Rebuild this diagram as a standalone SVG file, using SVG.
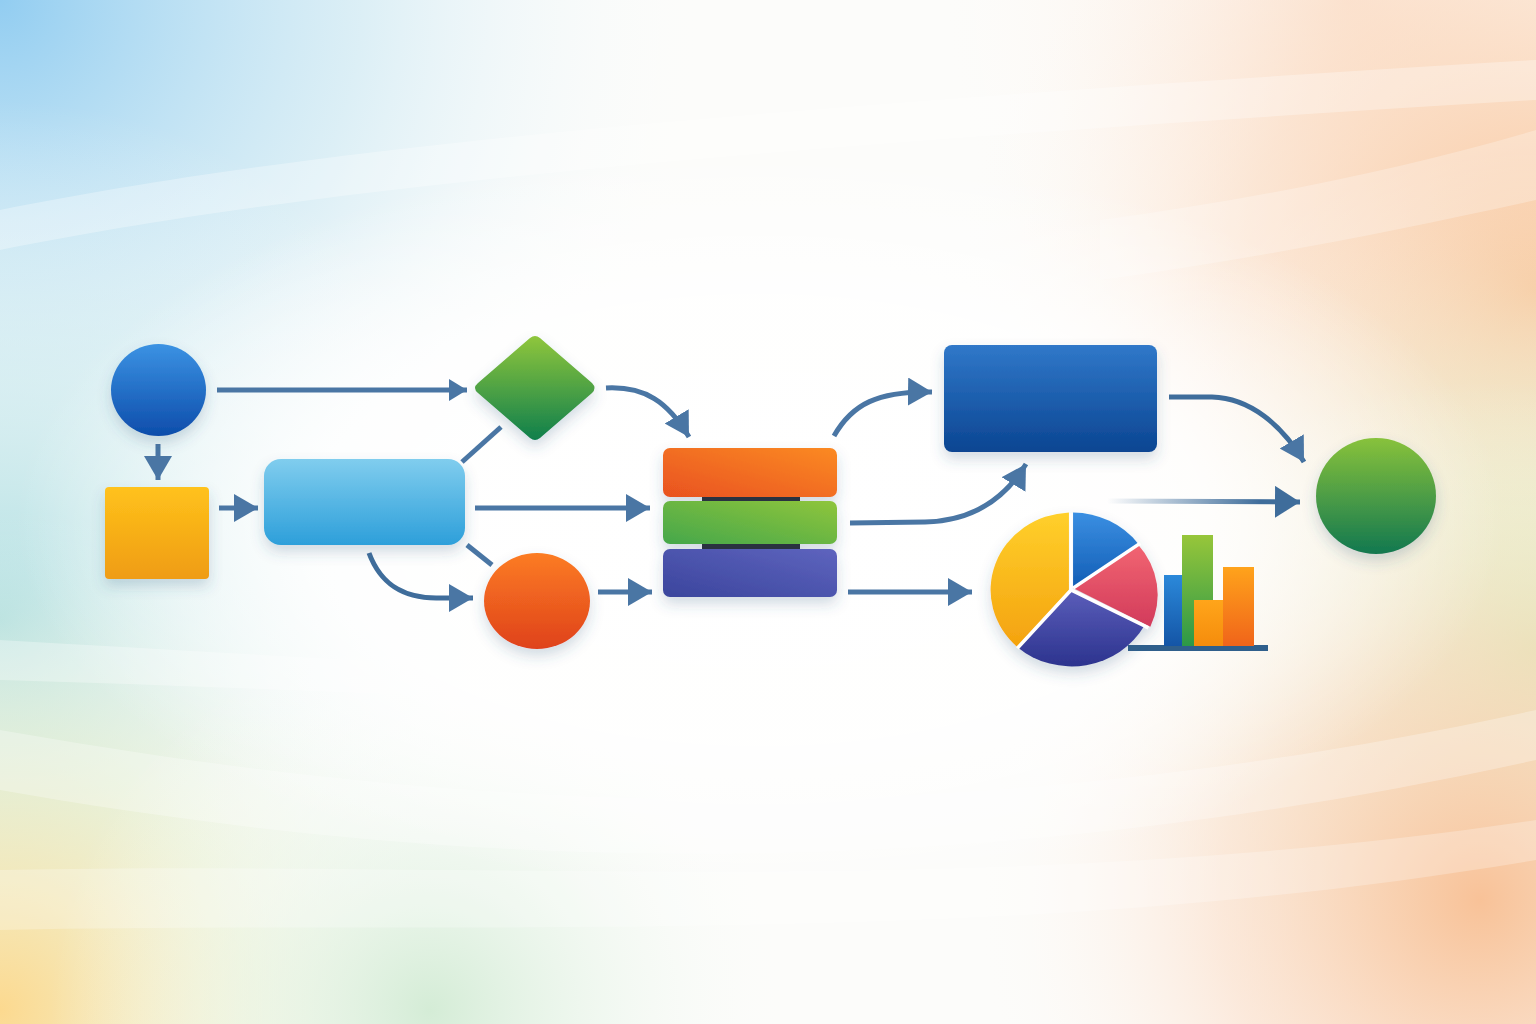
<svg xmlns="http://www.w3.org/2000/svg" width="1536" height="1024" viewBox="0 0 1536 1024">
<defs>
<radialGradient id="bgTL" cx="0" cy="0" r="720" gradientUnits="userSpaceOnUse"><stop offset="0" stop-color="#92cdf1"/><stop offset="0.5" stop-color="#c6e6f3" stop-opacity="0.6"/><stop offset="1" stop-color="#ffffff" stop-opacity="0"/></radialGradient>
<radialGradient id="bgLM" cx="0" cy="620" r="520" gradientUnits="userSpaceOnUse"><stop offset="0" stop-color="#a9dcdf"/><stop offset="1" stop-color="#ffffff" stop-opacity="0"/></radialGradient>
<radialGradient id="bgBL" cx="0" cy="1010" r="500" gradientUnits="userSpaceOnUse"><stop offset="0" stop-color="#fcd98f"/><stop offset="0.5" stop-color="#eef0c8" stop-opacity="0.6"/><stop offset="1" stop-color="#ffffff" stop-opacity="0"/></radialGradient>
<radialGradient id="bgBC" cx="430" cy="1010" r="380" gradientUnits="userSpaceOnUse"><stop offset="0" stop-color="#d4ecd6"/><stop offset="1" stop-color="#ffffff" stop-opacity="0"/></radialGradient>
<radialGradient id="bgT" cx="1350" cy="0" r="450" gradientUnits="userSpaceOnUse"><stop offset="0" stop-color="#fbe2d0"/><stop offset="1" stop-color="#ffffff" stop-opacity="0"/></radialGradient>
<radialGradient id="bgTR" cx="1536" cy="290" r="600" gradientUnits="userSpaceOnUse"><stop offset="0" stop-color="#f8c193"/><stop offset="0.5" stop-color="#fbdcc3" stop-opacity="0.6"/><stop offset="1" stop-color="#ffffff" stop-opacity="0"/></radialGradient>
<radialGradient id="bgRM" cx="1536" cy="650" r="500" gradientUnits="userSpaceOnUse"><stop offset="0" stop-color="#d6e9ac"/><stop offset="1" stop-color="#ffffff" stop-opacity="0"/></radialGradient>
<radialGradient id="bgBR" cx="1480" cy="900" r="520" gradientUnits="userSpaceOnUse"><stop offset="0" stop-color="#f8c298"/><stop offset="0.5" stop-color="#fbdcc6" stop-opacity="0.6"/><stop offset="1" stop-color="#ffffff" stop-opacity="0"/></radialGradient>
<radialGradient id="bgC" cx="760" cy="520" r="620" gradientUnits="userSpaceOnUse" gradientTransform="translate(760 520) scale(1.2 0.6) translate(-760 -520)"><stop offset="0" stop-color="#ffffff"/><stop offset="0.6" stop-color="#ffffff" stop-opacity="0.85"/><stop offset="1" stop-color="#ffffff" stop-opacity="0"/></radialGradient>

<linearGradient id="gBlueC" x1="0" y1="0" x2="0" y2="1"><stop offset="0" stop-color="#3b92e3"/><stop offset="1" stop-color="#0d4dab"/></linearGradient>
<linearGradient id="gYellow" x1="0" y1="0" x2="0" y2="1"><stop offset="0" stop-color="#ffc21c"/><stop offset="1" stop-color="#ef9c12"/></linearGradient>
<linearGradient id="gLight" x1="0" y1="0" x2="0" y2="1"><stop offset="0" stop-color="#80cdee"/><stop offset="1" stop-color="#2d9fda"/></linearGradient>
<linearGradient id="gDiamond" x1="0" y1="0" x2="0" y2="1"><stop offset="0" stop-color="#8fc63c"/><stop offset="1" stop-color="#0f7f4c"/></linearGradient>
<linearGradient id="gOrangeC" x1="0" y1="0" x2="0" y2="1"><stop offset="0" stop-color="#fc7c24"/><stop offset="1" stop-color="#df421b"/></linearGradient>
<linearGradient id="gBarO" x1="0" y1="1" x2="1" y2="0"><stop offset="0" stop-color="#e9521f"/><stop offset="1" stop-color="#fb8a24"/></linearGradient>
<linearGradient id="gBarG" x1="0" y1="1" x2="1" y2="0"><stop offset="0" stop-color="#45a74a"/><stop offset="1" stop-color="#8fc53c"/></linearGradient>
<linearGradient id="gBarP" x1="0" y1="1" x2="1" y2="0"><stop offset="0" stop-color="#3b459d"/><stop offset="1" stop-color="#5e64be"/></linearGradient>
<linearGradient id="gBlueR" x1="0" y1="0" x2="0" y2="1"><stop offset="0" stop-color="#3078c9"/><stop offset="1" stop-color="#0b4592"/></linearGradient>
<linearGradient id="gGreenC" x1="0" y1="0" x2="0" y2="1"><stop offset="0" stop-color="#88c23b"/><stop offset="1" stop-color="#127850"/></linearGradient>
<linearGradient id="pY" x1="0" y1="0" x2="0" y2="1"><stop offset="0" stop-color="#ffd02b"/><stop offset="1" stop-color="#f4a20f"/></linearGradient>
<linearGradient id="pB" x1="0" y1="0" x2="0" y2="1"><stop offset="0" stop-color="#3a8fe2"/><stop offset="1" stop-color="#135db5"/></linearGradient>
<linearGradient id="pR" x1="0" y1="0" x2="0" y2="1"><stop offset="0" stop-color="#f26572"/><stop offset="1" stop-color="#d23b5b"/></linearGradient>
<linearGradient id="pP" x1="0" y1="0" x2="0" y2="1"><stop offset="0" stop-color="#5b5eba"/><stop offset="1" stop-color="#2c338e"/></linearGradient>
<linearGradient id="bB" x1="0" y1="0" x2="0" y2="1"><stop offset="0" stop-color="#2b89da"/><stop offset="1" stop-color="#1455a6"/></linearGradient>
<linearGradient id="bG" x1="0" y1="0" x2="0" y2="1"><stop offset="0" stop-color="#97c63a"/><stop offset="1" stop-color="#2c9848"/></linearGradient>
<linearGradient id="bO" x1="0" y1="0" x2="0" y2="1"><stop offset="0" stop-color="#ffa51a"/><stop offset="1" stop-color="#f58c0c"/></linearGradient>
<linearGradient id="bO2" x1="0" y1="0" x2="0" y2="1"><stop offset="0" stop-color="#ffa31b"/><stop offset="1" stop-color="#f0641a"/></linearGradient>
<linearGradient id="fade" x1="1107" y1="0" x2="1260" y2="0" gradientUnits="userSpaceOnUse"><stop offset="0" stop-color="#3f6d9b" stop-opacity="0"/><stop offset="1" stop-color="#3f6d9b"/></linearGradient>

<filter id="sh" x="-30%" y="-30%" width="160%" height="170%"><feDropShadow dx="0" dy="7" stdDeviation="7" flood-color="#3a5a80" flood-opacity="0.22"/></filter>
<marker id="ah" markerUnits="userSpaceOnUse" markerWidth="26" markerHeight="30" refX="24" refY="14" orient="auto"><path d="M0,0 L24,14 L0,28 z" fill="#4a76a4"/></marker>
<marker id="ahs" markerUnits="userSpaceOnUse" markerWidth="20" markerHeight="24" refX="18" refY="11" orient="auto"><path d="M0,0 L18,11 L0,22 z" fill="#4a76a4"/></marker>
<marker id="ahd" markerUnits="userSpaceOnUse" markerWidth="26" markerHeight="34" refX="25" refY="16" orient="auto"><path d="M0,0 L25,16 L0,32 z" fill="#3f6d9b"/></marker>
<style>
.c{fill:none;stroke:#4a76a4;stroke-width:5}
.cd{fill:none;stroke:#3f6d9b;stroke-width:5}
.band{fill:#ffffff}
</style>
</defs>

<g id="background">
<rect width="1536" height="1024" fill="#fcfcfa"/>
<rect width="1536" height="1024" fill="url(#bgTL)"/>
<rect width="1536" height="1024" fill="url(#bgLM)"/>
<rect width="1536" height="1024" fill="url(#bgBL)"/>
<rect width="1536" height="1024" fill="url(#bgBC)"/>
<rect width="1536" height="1024" fill="url(#bgT)"/>
<rect width="1536" height="1024" fill="url(#bgTR)"/>
<rect width="1536" height="1024" fill="url(#bgRM)"/>
<rect width="1536" height="1024" fill="url(#bgBR)"/>
<rect width="1536" height="1024" fill="url(#bgC)"/>
<path class="band" d="M0,210 C300,150 700,110 1536,60 L1536,100 C700,150 300,190 0,250 z" opacity="0.3"/>
<path class="band" d="M0,640 C350,660 700,680 1000,690 L1000,720 C700,710 350,690 0,680 z" opacity="0.3"/>
<path class="band" d="M0,730 C400,800 900,850 1536,710 L1536,760 C900,900 400,860 0,790 z" opacity="0.28"/>
<path class="band" d="M0,870 C500,860 1000,900 1536,820 L1536,860 C1000,950 500,920 0,930 z" opacity="0.25"/>
<path class="band" d="M1100,220 C1250,200 1400,170 1536,130 L1536,200 C1400,230 1250,260 1100,280 z" opacity="0.25"/>
</g>

<g id="connectors">
<path class="c" d="M217,390 L467,390" marker-end="url(#ahs)"/>
<path class="c" d="M158,444 L158,480" marker-end="url(#ah)"/>
<path class="c" d="M219,508 L258,508" marker-end="url(#ah)"/>
<path class="c" d="M462,462 L501,427"/>
<path class="c" d="M467,545 L492,565"/>
<path class="cd" d="M369,553 C382,588 408,599 440,598 L473,598" marker-end="url(#ah)"/>
<path class="c" d="M475,508 L650,508" marker-end="url(#ah)"/>
<path class="c" d="M606,388 C645,386 668,402 689,437" marker-end="url(#ah)"/>
<path class="c" d="M598,592 L652,592" marker-end="url(#ah)"/>
<path class="c" d="M834,436 C852,404 878,391 932,392" marker-end="url(#ah)"/>
<path class="c" d="M850,523 L925,522 C972,521 1004,500 1026,464" marker-end="url(#ah)"/>
<path class="c" d="M848,592 L972,592" marker-end="url(#ah)"/>
<path class="cd" d="M1169,397 L1212,397 C1250,398 1282,425 1304,462" marker-end="url(#ah)"/>
<path d="M1107,501 L1300,502" fill="none" stroke="url(#fade)" stroke-width="5" marker-end="url(#ahd)"/>
</g>

<g id="start-circle" filter="url(#sh)"><ellipse cx="158.5" cy="390" rx="47.5" ry="46" fill="url(#gBlueC)"/></g>
<g id="yellow-square" filter="url(#sh)"><rect x="105" y="487" width="104" height="92" rx="4" fill="url(#gYellow)"/></g>
<g id="light-blue-box" filter="url(#sh)"><rect x="264" y="459" width="201" height="86" rx="17" fill="url(#gLight)"/></g>
<g id="decision" filter="url(#sh)"><path d="M478,383 L530,338 Q535,334 540,338 L592,383 Q597,388 592,393 L540,438 Q535,442 530,438 L478,393 Q472,388 478,383 z" fill="url(#gDiamond)"/></g>
<g id="orange-circle" filter="url(#sh)"><ellipse cx="537" cy="601" rx="53" ry="48" fill="url(#gOrangeC)"/></g>
<g id="stack" filter="url(#sh)">
<rect x="702" y="494" width="98" height="10" fill="#2b3340"/>
<rect x="702" y="541" width="98" height="10" fill="#2b3340"/>
<rect x="663" y="448" width="174" height="49" rx="7" fill="url(#gBarO)"/>
<rect x="663" y="501" width="174" height="43" rx="7" fill="url(#gBarG)"/>
<rect x="663" y="549" width="174" height="48" rx="7" fill="url(#gBarP)"/>
</g>
<g id="blue-box" filter="url(#sh)"><rect x="944" y="345" width="213" height="107" rx="8" fill="url(#gBlueR)"/></g>
<g id="end-circle" filter="url(#sh)"><ellipse cx="1376" cy="496" rx="60" ry="58" fill="url(#gGreenC)"/></g>

<g id="chart">
<rect x="1128" y="645" width="140" height="6" fill="#2f5f8c"/>
<rect x="1164" y="575" width="21" height="71" fill="url(#bB)"/>
<rect x="1182" y="535" width="31" height="111" fill="url(#bG)"/>
<rect x="1194" y="600" width="29" height="46" fill="url(#bO)"/>
<rect x="1223" y="567" width="31" height="79" fill="url(#bO2)"/>
<g filter="url(#sh)">
<g transform="translate(1071 590) scale(1.03 0.97) translate(-1071 -590)">
<path d="M1069,590 L1019,649 A80,80 0 0 1 1069,510 z" fill="url(#pY)"/>
<path d="M1071,590 L1142,627 A80,80 0 0 1 1019,649 z" fill="url(#pP)"/>
<path d="M1073,588 L1136,543 A80,80 0 0 1 1148,628 z" fill="url(#pR)"/>
<path d="M1073,588 L1073,510 A80,80 0 0 1 1136,542 z" fill="url(#pB)"/>
<path d="M1071,511 L1071,590 L1019,650 M1071,590 L1146,629 M1073,588 L1138,542" fill="none" stroke="#ffffff" stroke-width="3.5"/>
</g>
</g>
</g>
</svg>
